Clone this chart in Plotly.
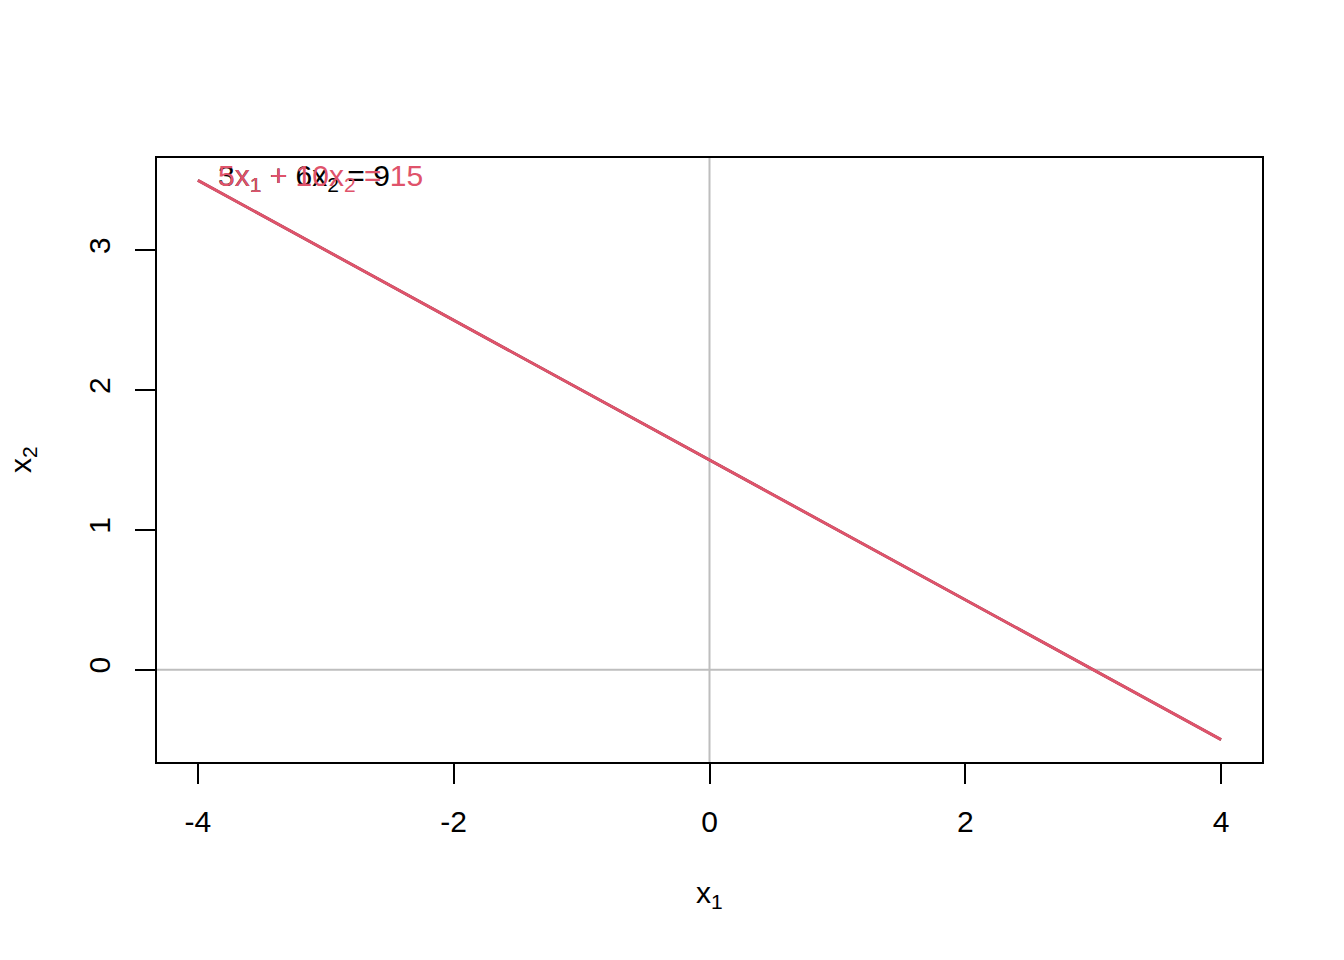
import plotly.graph_objects as go

# two equations, same line: 3x1 + 6x2 = 9 and 5x1 + 10x2 = 15
x1_vals = [-4, 4]
x2_eq1 = [3.5, -0.5]
x2_eq2 = [3.5, -0.5]
eq1_label = "3x<sub>1</sub> + 6x<sub>2</sub> = 9"
eq2_label = "5x<sub>1</sub> + 10x<sub>2</sub> = 15"
label_pos = (-4, 3.5)

x_title = "x<sub>1</sub>"
y_title = "x<sub>2</sub>"
x_ticks = [-4, -2, 0, 2, 4]
x_ticktext = ["-4", "-2", "0", "2", "4"]
y_ticks = [0, 1, 2, 3]

FONT = "Liberation Sans, Arial, sans-serif"
FS = 30
RED = "#DF536B"
GRAY = "#BEBEBE"

fig = go.Figure()

# reference lines at x=0 and y=0
fig.add_hline(y=0, line=dict(color=GRAY, width=2), layer="below")
fig.add_vline(x=0, line=dict(color=GRAY, width=2), layer="below")

fig.add_trace(go.Scatter(x=x1_vals, y=x2_eq1, mode="lines",
                         line=dict(color="black", width=2.5), showlegend=False))
fig.add_trace(go.Scatter(x=x1_vals, y=x2_eq2, mode="lines",
                         line=dict(color=RED, width=3), showlegend=False))

for text, col in [(eq1_label, "black"), (eq2_label, RED)]:
    fig.add_annotation(x=label_pos[0], y=label_pos[1], text=text, showarrow=False,
                       xanchor="left", yanchor="middle", xshift=18, yshift=3,
                       font=dict(family=FONT, size=FS, color=col))

# axis titles as paper annotations (standoff is ignored without automargin)
fig.add_annotation(xref="paper", yref="paper", x=0.5, y=0, yshift=-132,
                   text=x_title, showarrow=False, xanchor="center", yanchor="middle",
                   font=dict(family=FONT, size=FS, color="black"))
fig.add_annotation(xref="paper", yref="paper", x=0, y=0.5, xshift=-135, textangle=-90,
                   text=y_title, showarrow=False, xanchor="center", yanchor="middle",
                   font=dict(family=FONT, size=FS, color="black"))

axis_common = dict(
    showline=True, mirror=True, linecolor="black", linewidth=2,
    ticks="outside", ticklen=20, tickwidth=2, tickcolor="black",
    showgrid=False, zeroline=False, automargin=False,
    tickfont=dict(family=FONT, size=FS, color="black"),
)

fig.update_xaxes(range=[-4.32, 4.32], tickvals=x_ticks, ticktext=x_ticktext,
                 ticklabelstandoff=12, **axis_common)
fig.update_yaxes(range=[-0.66, 3.66], tickvals=y_ticks, tickangle=-90,
                 ticklabelstandoff=13, **axis_common)

# page adds ~8px offset, so margins are shifted to keep the box where it was
fig.update_layout(
    width=1344, height=960,
    margin=dict(l=149, r=90, t=150, b=206),
    paper_bgcolor="white", plot_bgcolor="white",
    font=dict(family=FONT, color="black"),
)

fig.write_html("out.html")
